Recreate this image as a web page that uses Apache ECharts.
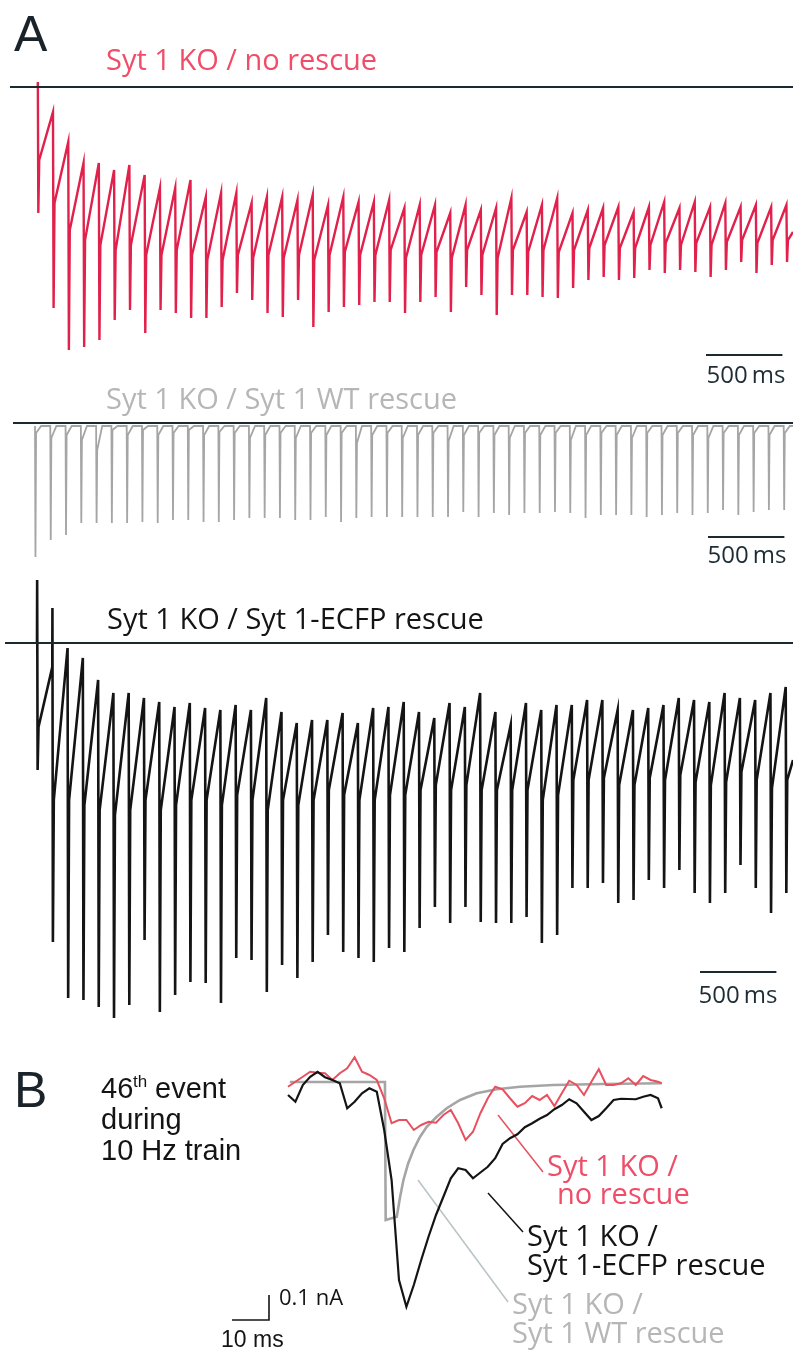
<!DOCTYPE html>
<html>
<head>
<meta charset="utf-8">
<title>Syt 1 KO 10 Hz trains</title>
<script src="https://cdn.jsdelivr.net/npm/echarts@6/dist/echarts.min.js"></script>
<style>
  html, body { margin: 0; padding: 0; background: #fff; }
  #chart { width: 793px; height: 1356px; }
</style>
</head>
<body>
<div id="chart"></div>
<script>
// ---- data: panel A, 10 Hz train (times in ms, currents in nA) ----
var stimTimes = [0,100,200,300,400,500,600,700,800,900,1000,1100,1200,1300,1400,1500,1600,1700,1800,1900,
  2000,2100,2200,2300,2400,2500,2600,2700,2800,2900,3000,3100,3200,3300,3400,3500,3600,3700,3800,3900,
  4000,4100,4200,4300,4400,4500,4600,4700,4800,4900];

// Syt 1 KO / no rescue
var redPeak = [0,-0.25,-0.55,-0.76,-0.76,-0.83,-0.78,-0.88,-1.01,-1.01,-0.93,-1.10,-1.06,-1.06,-1.16,-1.10,-1.10,-1.13,-1.08,-1.18,
  -1.10,-1.15,-1.15,-1.13,-1.21,-1.18,-1.18,-1.26,-1.18,-1.23,-1.21,-1.11,-1.25,-1.18,-1.11,-1.26,-1.23,-1.21,-1.20,-1.25,
  -1.20,-1.15,-1.21,-1.15,-1.20,-1.16,-1.20,-1.18,-1.20,-1.18];
var redTrough = [-1.26,-2.21,-2.63,-2.60,-2.53,-2.33,-2.23,-2.46,-2.23,-2.26,-2.31,-2.31,-2.20,-2.06,-2.13,-2.26,-2.30,-2.13,-2.40,-2.25,
  -2.20,-2.18,-2.15,-2.15,-2.26,-2.15,-2.10,-2.25,-2.00,-2.08,-2.28,-2.08,-2.08,-2.10,-2.11,-2.01,-1.93,-1.90,-1.93,-1.91,
  -1.83,-1.86,-1.83,-1.85,-1.90,-1.83,-1.75,-1.86,-1.78,-1.75];
var redMid = [-0.73,-1.16,-1.43,-1.53,-1.58,-1.63,-1.58,-1.68,-1.68,-1.63,-1.68,-1.73,-1.73,-1.68,-1.71,-1.68,-1.71,-1.68,-1.73,-1.68,
  -1.65,-1.68,-1.68,-1.63,-1.71,-1.68,-1.65,-1.71,-1.63,-1.68,-1.71,-1.63,-1.65,-1.63,-1.65,-1.63,-1.61,-1.58,-1.61,-1.61,
  -1.58,-1.56,-1.58,-1.56,-1.58,-1.55,-1.53,-1.56,-1.53,-1.53];
var redArtifact = [0.05];
var redEndLevel = -1.45;

// Syt 1 KO / Syt 1 WT rescue
var grayRest = -0.03;
var grayTrough = [-1.34,-1.17,-1.12,-1.00,-1.00,-1.00,-1.00,-0.99,-1.00,-0.97,-0.97,-0.99,-0.99,-0.97,-0.95,-0.95,-0.95,-0.97,-0.97,-0.94,
  -0.99,-0.95,-0.94,-0.94,-0.94,-0.94,-0.94,-0.94,-0.89,-0.94,-0.90,-0.92,-0.90,-0.90,-0.89,-0.90,-0.95,-0.92,-0.92,-0.92,
  -0.94,-0.92,-0.90,-0.92,-0.90,-0.87,-0.92,-0.89,-0.87,-0.87];
var grayHook = [-0.10,-0.15,-0.12,-0.17,-0.27,-0.07,-0.12,-0.07,-0.12,-0.10,-0.07,-0.12,-0.09,-0.10,-0.15,-0.12,-0.10,-0.15,-0.10,-0.12,
  -0.10,-0.20,-0.12,-0.10,-0.15,-0.12,-0.10,-0.18,-0.12,-0.10,-0.12,-0.15,-0.10,-0.12,-0.10,-0.17,-0.12,-0.10,-0.12,-0.15,
  -0.10,-0.12,-0.10,-0.12,-0.15,-0.10,-0.12,-0.10,-0.12,-0.10];

// Syt 1 KO / Syt 1-ECFP rescue
var blackPeak = [0,-0.24,-0.05,-0.15,-0.37,-0.50,-0.50,-0.55,-0.59,-0.64,-0.60,-0.65,-0.67,-0.62,-0.67,-0.55,-0.69,-0.80,-0.77,-0.77,
  -0.70,-0.80,-0.65,-0.64,-0.59,-0.69,-0.75,-0.60,-0.64,-0.50,-0.69,-0.82,-0.60,-0.67,-0.62,-0.62,-0.57,-0.57,-0.67,-0.67,
  -0.65,-0.62,-0.55,-0.57,-0.59,-0.50,-0.55,-0.57,-0.50,-0.44];
var blackTrough = [-1.27,-2.99,-3.55,-3.57,-3.64,-3.75,-3.62,-2.97,-3.69,-3.52,-3.39,-3.40,-3.60,-3.15,-3.17,-3.49,-3.22,-3.35,-3.19,-2.92,
  -3.09,-3.15,-3.19,-3.05,-3.09,-2.85,-2.64,-2.80,-2.64,-2.79,-2.80,-2.80,-2.74,-3.00,-2.92,-2.45,-2.45,-2.40,-2.60,-2.57,
  -2.37,-2.45,-2.27,-2.50,-2.60,-2.50,-2.22,-2.45,-2.70,-2.50];
var blackMid = [-0.84,-1.57,-1.57,-1.62,-1.67,-1.72,-1.67,-1.57,-1.67,-1.62,-1.57,-1.57,-1.62,-1.52,-1.57,-1.67,-1.57,-1.62,-1.57,-1.47,
  -1.52,-1.57,-1.57,-1.52,-1.52,-1.47,-1.42,-1.47,-1.42,-1.47,-1.47,-1.47,-1.47,-1.57,-1.52,-1.37,-1.37,-1.35,-1.42,-1.42,
  -1.35,-1.37,-1.32,-1.39,-1.42,-1.39,-1.29,-1.37,-1.45,-1.37];
var blackArtifact = [0.63, 0.35];
var blackEndLevel = -1.17;

// ---- data: panel B, 46th event (ms, pA) ----
var bTime = [0,2,4,6,8,10,12,14,16,18,20,22,24,26,28,30,32,34,36,38,40,42,44,46,48,50,
  52,54,56,58,60,62,64,66,68,70,72,74,76,78,80,82,84,86,88,90,92,94,96,98,100,101];
var bBlack = [-52,-79,-12,21,41,19,8,-5,-105,-79,-45,-25,-39,-192,-392,-792,-899,-812,-712,-618,-532,-459,-385,-345,-352,-385,
  -362,-339,-305,-248,-225,-209,-181,-165,-147,-132,-109,-92,-69,-85,-119,-152,-136,-105,-72,-67,-68,-69,-59,-52,-65,-105];
var bRed = [-19,1,21,41,37,35,8,35,55,99,41,28,8,-65,-165,-152,-152,-192,-172,-159,-163,-132,-112,-165,-232,-199,
  -125,-65,-19,-29,-65,-99,-85,-56,-72,-52,-96,-45,5,-12,-52,1,51,-12,-12,-5,15,-12,24,8,1,-5];
var bGrayTime = [0.5,26.2,26.4,29.4,30.3,31.2,32.5,33.9,35.7,37.5,40.2,42.9,46.5,51,56.4,62.7,71.7,85.2,101];
var bGrayCurrent = [0,0,-552,-539,-459,-392,-325,-272,-219,-179,-139,-105,-72,-45,-29,-19,-12,-8,-5];

var timeBarA = 500;    // ms
var timeBarB = 10;     // ms
var currentBarB = 100; // pA

// ---- layout (pixels) ----
var pxPerMs = 0.1528;
var panels = [
  { left: 10, top: 60,  width: 783, height: 300, x0: 37.7, y0: 87,  pxPerUnit: 100, barX: 706, barY: 355 },
  { left: 13, top: 400, width: 780, height: 170, x0: 35,   y0: 423, pxPerUnit: 100, barX: 708, barY: 537 },
  { left: 5,  top: 570, width: 788, height: 460, x0: 37,   y0: 643, pxPerUnit: 100, barX: 700, barY: 972 }
];
var panelB = { left: 220, top: 1040, width: 442, height: 290, x0: 288, y0: 1082, pxPerMs: 3.7, pxPerUnit: 0.25, barX: 232, barY: 1320 };

var C = {
  red: '#e1214b', redText: '#ef4d68', redB: '#e8505f',
  gray: '#a5a5a5', grayText: '#b6b6b6',
  black: '#141414', base: '#1b2a31'
};

function trainTrace(pre, trough, mid, artifact, endLevel, endTime) {
  var pts = [];
  for (var i = 0; i < stimTimes.length; i++) {
    var t = stimTimes[i];
    pts.push([t, pre[i]]);
    if (artifact && artifact[i] != null) pts.push([t + 1, artifact[i]]);
    pts.push([t + 4, trough[i]]);
    pts.push([t + 10, mid[i]]);
  }
  pts.push([endTime, endLevel]);
  return pts;
}

function grayTrace(endTime) {
  var pts = [];
  for (var i = 0; i < stimTimes.length; i++) {
    var t = stimTimes[i];
    pts.push([t, grayRest]);
    pts.push([t + 3, grayTrough[i]]);
    pts.push([t + 7, grayHook[i]]);
    pts.push([t + 40, grayRest]);
  }
  pts.push([endTime, grayRest]);
  return pts;
}

var grids = [], xAxes = [], yAxes = [];
function addPanel(p, k, msScale) {
  grids.push({ left: p.left, top: p.top, width: p.width, height: p.height });
  p.tMin = (p.left - p.x0) / msScale;
  p.tMax = (p.left + p.width - p.x0) / msScale;
  p.vMax = (p.y0 - p.top) / p.pxPerUnit;
  p.vMin = p.vMax - p.height / p.pxPerUnit;
  xAxes.push({ type: 'value', gridIndex: k, min: p.tMin, max: p.tMax, show: false });
  yAxes.push({ type: 'value', gridIndex: k, min: p.vMin, max: p.vMax, show: false });
}
panels.forEach(function (p, k) { addPanel(p, k, pxPerMs); });
addPanel(panelB, 3, panelB.pxPerMs);

function baseLine() {
  return {
    silent: true, symbol: ['none', 'none'], label: { show: false },
    lineStyle: { color: C.base, width: 2, type: 'solid' },
    data: [{ yAxis: 0 }]
  };
}

function lineSeries(k, data, color, width, extra) {
  var s = {
    type: 'line', xAxisIndex: k, yAxisIndex: k, data: data,
    symbol: 'none', silent: true, animation: false,
    lineStyle: { color: color, width: width, join: 'miter' }
  };
  for (var key in extra) s[key] = extra[key];
  return s;
}

function scaleBarA(k) {
  var p = panels[k];
  var t0 = (p.barX - p.x0) / pxPerMs;
  var v = -(p.barY - p.y0) / p.pxPerUnit;
  return lineSeries(k, [[t0, v], [t0 + timeBarA, v]], C.base, 2);
}

var bT0 = (panelB.barX - panelB.x0) / panelB.pxPerMs;
var bV0 = -(panelB.barY - panelB.y0) / panelB.pxPerUnit;

var series = [
  lineSeries(0, trainTrace(redPeak, redTrough, redMid, redArtifact, redEndLevel, panels[0].tMax), C.red, 2.4, { markLine: baseLine() }),
  scaleBarA(0),
  lineSeries(1, grayTrace(panels[1].tMax), C.gray, 1.8, { markLine: baseLine() }),
  scaleBarA(1),
  lineSeries(2, trainTrace(blackPeak, blackTrough, blackMid, blackArtifact, blackEndLevel, panels[2].tMax), C.black, 2.6, { markLine: baseLine() }),
  scaleBarA(2),
  lineSeries(3, bGrayTime.map(function (t, i) { return [t, bGrayCurrent[i]]; }), C.gray, 2.6),
  lineSeries(3, bTime.map(function (t, i) { return [t, bRed[i]]; }), C.redB, 2),
  lineSeries(3, bTime.map(function (t, i) { return [t, bBlack[i]]; }), C.black, 2.2),
  lineSeries(3, [[bT0, bV0], [bT0 + timeBarB, bV0], [bT0 + timeBarB, bV0 + currentBarB]], C.black, 1.6)
];

var OS = '"Open Sans", "Noto Sans", sans-serif';
var HV = '"Liberation Sans", Arial, sans-serif';
function txt(x, y, text, size, family, color, align) {
  return {
    type: 'text', x: x, y: y, silent: true,
    style: {
      text: text, fontSize: size, fontFamily: family, fill: color,
      align: align || 'left', verticalAlign: 'middle',
      textAlign: align || 'left', textVerticalAlign: 'middle'
    }
  };
}
function seg(x1, y1, x2, y2, color) {
  return { type: 'line', silent: true, shape: { x1: x1, y1: y1, x2: x2, y2: y2 }, style: { stroke: color, lineWidth: 1.5 } };
}

var graphics = [
  txt(14, 37, 'A', 50, HV, '#1a2329'),
  txt(106, 62, 'Syt 1 KO / no rescue', 29, OS, C.redText),
  txt(746, 376, '500\u2009ms', 24, OS, '#1e2d35', 'center'),
  txt(106, 401, 'Syt 1 KO / Syt 1 WT rescue', 29, OS, C.grayText),
  txt(747, 556, '500\u2009ms', 24, OS, '#1e2d35', 'center'),
  txt(107, 621, 'Syt 1 KO / Syt 1-ECFP rescue', 29, OS, C.black),
  txt(738, 996, '500\u2009ms', 24, OS, '#1e2d35', 'center'),

  txt(14, 1093, 'B', 50, HV, '#1a2329'),
  txt(101, 1090, '46', 29, HV, C.black),
  txt(133, 1082, 'th', 17, HV, C.black),
  txt(155, 1090, 'event', 29, HV, C.black),
  txt(101, 1121, 'during', 29, HV, C.black),
  txt(101, 1152, '10 Hz train', 29, HV, C.black),

  seg(498, 1115, 543, 1172, C.redB),
  txt(547, 1168, 'Syt 1 KO /', 29, OS, C.redText),
  txt(557, 1196, 'no rescue', 29, OS, C.redText),
  seg(488, 1193, 523, 1232, C.black),
  txt(527, 1238, 'Syt 1 KO /', 29, OS, C.black),
  txt(527, 1267, 'Syt 1-ECFP rescue', 29, OS, C.black),
  seg(418, 1180, 508, 1302, '#b9c3c6'),
  txt(512, 1306, 'Syt 1 KO /', 29, OS, C.grayText),
  txt(512, 1335, 'Syt 1 WT rescue', 29, OS, C.grayText),

  txt(279, 1299, '0.1 nA', 22, OS, C.black),
  txt(221, 1341, '10 ms', 23, HV, C.black)
];

var chart = echarts.init(document.getElementById('chart'), null, { renderer: 'canvas' });
chart.setOption({
  backgroundColor: '#ffffff',
  animation: false,
  grid: grids,
  xAxis: xAxes,
  yAxis: yAxes,
  series: series,
  graphic: { elements: graphics }
});
</script>
</body>
</html>
